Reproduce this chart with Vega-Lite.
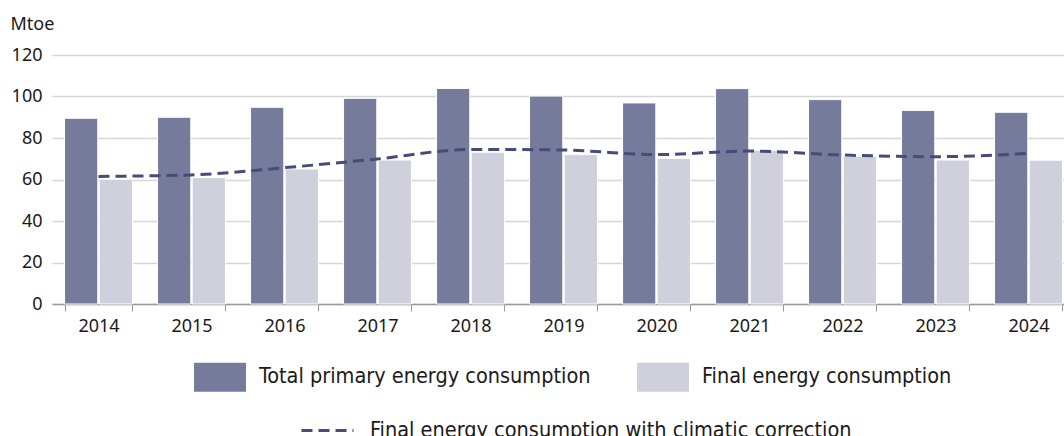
{
  "$schema": "https://vega.github.io/schema/vega-lite/v6.json",
  "width": 1023,
  "height": 249,
  "autosize": {"type": "none"},
  "padding": {"left": 52, "top": 55, "right": 0, "bottom": 132},
  "config": {"view": {"stroke": null}, "font": "Noto Sans"},
  "datasets": {
    "bars": [
      {"year": "2014", "series": "Total primary energy consumption", "value": 89.5},
      {"year": "2015", "series": "Total primary energy consumption", "value": 90.0},
      {"year": "2016", "series": "Total primary energy consumption", "value": 94.8},
      {"year": "2017", "series": "Total primary energy consumption", "value": 99.1},
      {"year": "2018", "series": "Total primary energy consumption", "value": 103.9},
      {"year": "2019", "series": "Total primary energy consumption", "value": 100.2},
      {"year": "2020", "series": "Total primary energy consumption", "value": 96.9},
      {"year": "2021", "series": "Total primary energy consumption", "value": 103.8},
      {"year": "2022", "series": "Total primary energy consumption", "value": 98.5},
      {"year": "2023", "series": "Total primary energy consumption", "value": 93.3},
      {"year": "2024", "series": "Total primary energy consumption", "value": 92.4},
      {"year": "2014", "series": "Final energy consumption", "value": 60.1},
      {"year": "2015", "series": "Final energy consumption", "value": 60.9},
      {"year": "2016", "series": "Final energy consumption", "value": 65.1},
      {"year": "2017", "series": "Final energy consumption", "value": 69.4},
      {"year": "2018", "series": "Final energy consumption", "value": 73.1},
      {"year": "2019", "series": "Final energy consumption", "value": 72.0},
      {"year": "2020", "series": "Final energy consumption", "value": 70.2},
      {"year": "2021", "series": "Final energy consumption", "value": 74.1},
      {"year": "2022", "series": "Final energy consumption", "value": 71.2},
      {"year": "2023", "series": "Final energy consumption", "value": 69.4},
      {"year": "2024", "series": "Final energy consumption", "value": 69.3}
    ],
    "line": [
      {"year": "2014", "series": "Final energy consumption with climatic correction", "value": 61.5},
      {"year": "2015", "series": "Final energy consumption with climatic correction", "value": 62.2},
      {"year": "2016", "series": "Final energy consumption with climatic correction", "value": 65.7},
      {"year": "2017", "series": "Final energy consumption with climatic correction", "value": 69.9},
      {"year": "2018", "series": "Final energy consumption with climatic correction", "value": 74.5},
      {"year": "2019", "series": "Final energy consumption with climatic correction", "value": 74.2},
      {"year": "2020", "series": "Final energy consumption with climatic correction", "value": 72.0},
      {"year": "2021", "series": "Final energy consumption with climatic correction", "value": 73.7},
      {"year": "2022", "series": "Final energy consumption with climatic correction", "value": 71.8},
      {"year": "2023", "series": "Final energy consumption with climatic correction", "value": 71.0},
      {"year": "2024", "series": "Final energy consumption with climatic correction", "value": 72.6}
    ]
  },
  "resolve": {"legend": {"color": "independent", "strokeDash": "independent"}},
  "layer": [
    {
      "data": {"name": "bars"},
      "mark": {"type": "bar", "stroke": "white", "strokeWidth": 1},
      "encoding": {
        "x": {
          "field": "year", "type": "ordinal",
          "scale": {"paddingInner": 0.27, "paddingOuter": 0.135},
          "axis": {
            "title": null, "labelAngle": 0, "labelFontSize": 18, "labelColor": "#1a1a1a",
            "labelPadding": 6, "tickBand": "extent", "tickSize": 7, "tickColor": "#9a9a9a",
            "domainColor": "#9a9a9a", "domainWidth": 1.5, "grid": false
          }
        },
        "xOffset": {
          "field": "series", "type": "nominal",
          "sort": ["Total primary energy consumption", "Final energy consumption"],
          "scale": {"paddingInner": 0.04}
        },
        "y": {
          "field": "value", "type": "quantitative",
          "scale": {"domain": [0, 120]},
          "axis": {
            "values": [0, 20, 40, 60, 80, 100, 120],
            "title": "Mtoe", "titleAngle": 0, "titleAlign": "left", "titleBaseline": "middle",
            "titleX": -42, "titleY": -31, "titleFontSize": 18, "titleFontWeight": "normal", "titleColor": "#1a1a1a",
            "labelFontSize": 18, "labelColor": "#1a1a1a", "labelPadding": 10,
            "ticks": false, "domain": false, "gridColor": "#d6d6d6", "gridWidth": 1.3
          }
        },
        "color": {
          "field": "series", "type": "nominal",
          "scale": {
            "domain": ["Total primary energy consumption", "Final energy consumption"],
            "range": ["#777b9b", "#d0d0dc"]
          },
          "legend": {
            "orient": "none", "legendX": 142, "legendY": 296, "direction": "horizontal",
            "title": null, "symbolType": "M-1,-0.56H1V0.56H-1Z", "symbolSize": 2704,
            "symbolStrokeWidth": 0, "symbolOpacity": 1,
            "labelFont": "DejaVu Sans Condensed, Roboto Condensed, Roboto", "labelFontSize": 21.5, "labelColor": "#1a1a1a",
            "labelOffset": 13, "columnPadding": 46, "padding": 0, "labelLimit": 500
          }
        }
      }
    },
    {
      "data": {"name": "line"},
      "mark": {"type": "line", "interpolate": "monotone", "color": "#464b7a", "strokeWidth": 3},
      "encoding": {
        "x": {"field": "year", "type": "ordinal"},
        "y": {"field": "value", "type": "quantitative"},
        "strokeDash": {
          "field": "series", "type": "nominal",
          "scale": {"range": [[11, 6]]},
          "legend": {
            "orient": "none", "legendX": 248, "legendY": 348, "title": null,
            "symbolType": "stroke", "symbolSize": 2704, "symbolStrokeColor": "#464b7a",
            "symbolStrokeWidth": 3, "symbolDash": [11, 6],
            "labelFont": "DejaVu Sans Condensed, Roboto Condensed, Roboto", "labelFontSize": 21.5, "labelColor": "#1a1a1a",
            "labelOffset": 15, "padding": 0, "labelLimit": 600
          }
        }
      }
    }
  ]
}
